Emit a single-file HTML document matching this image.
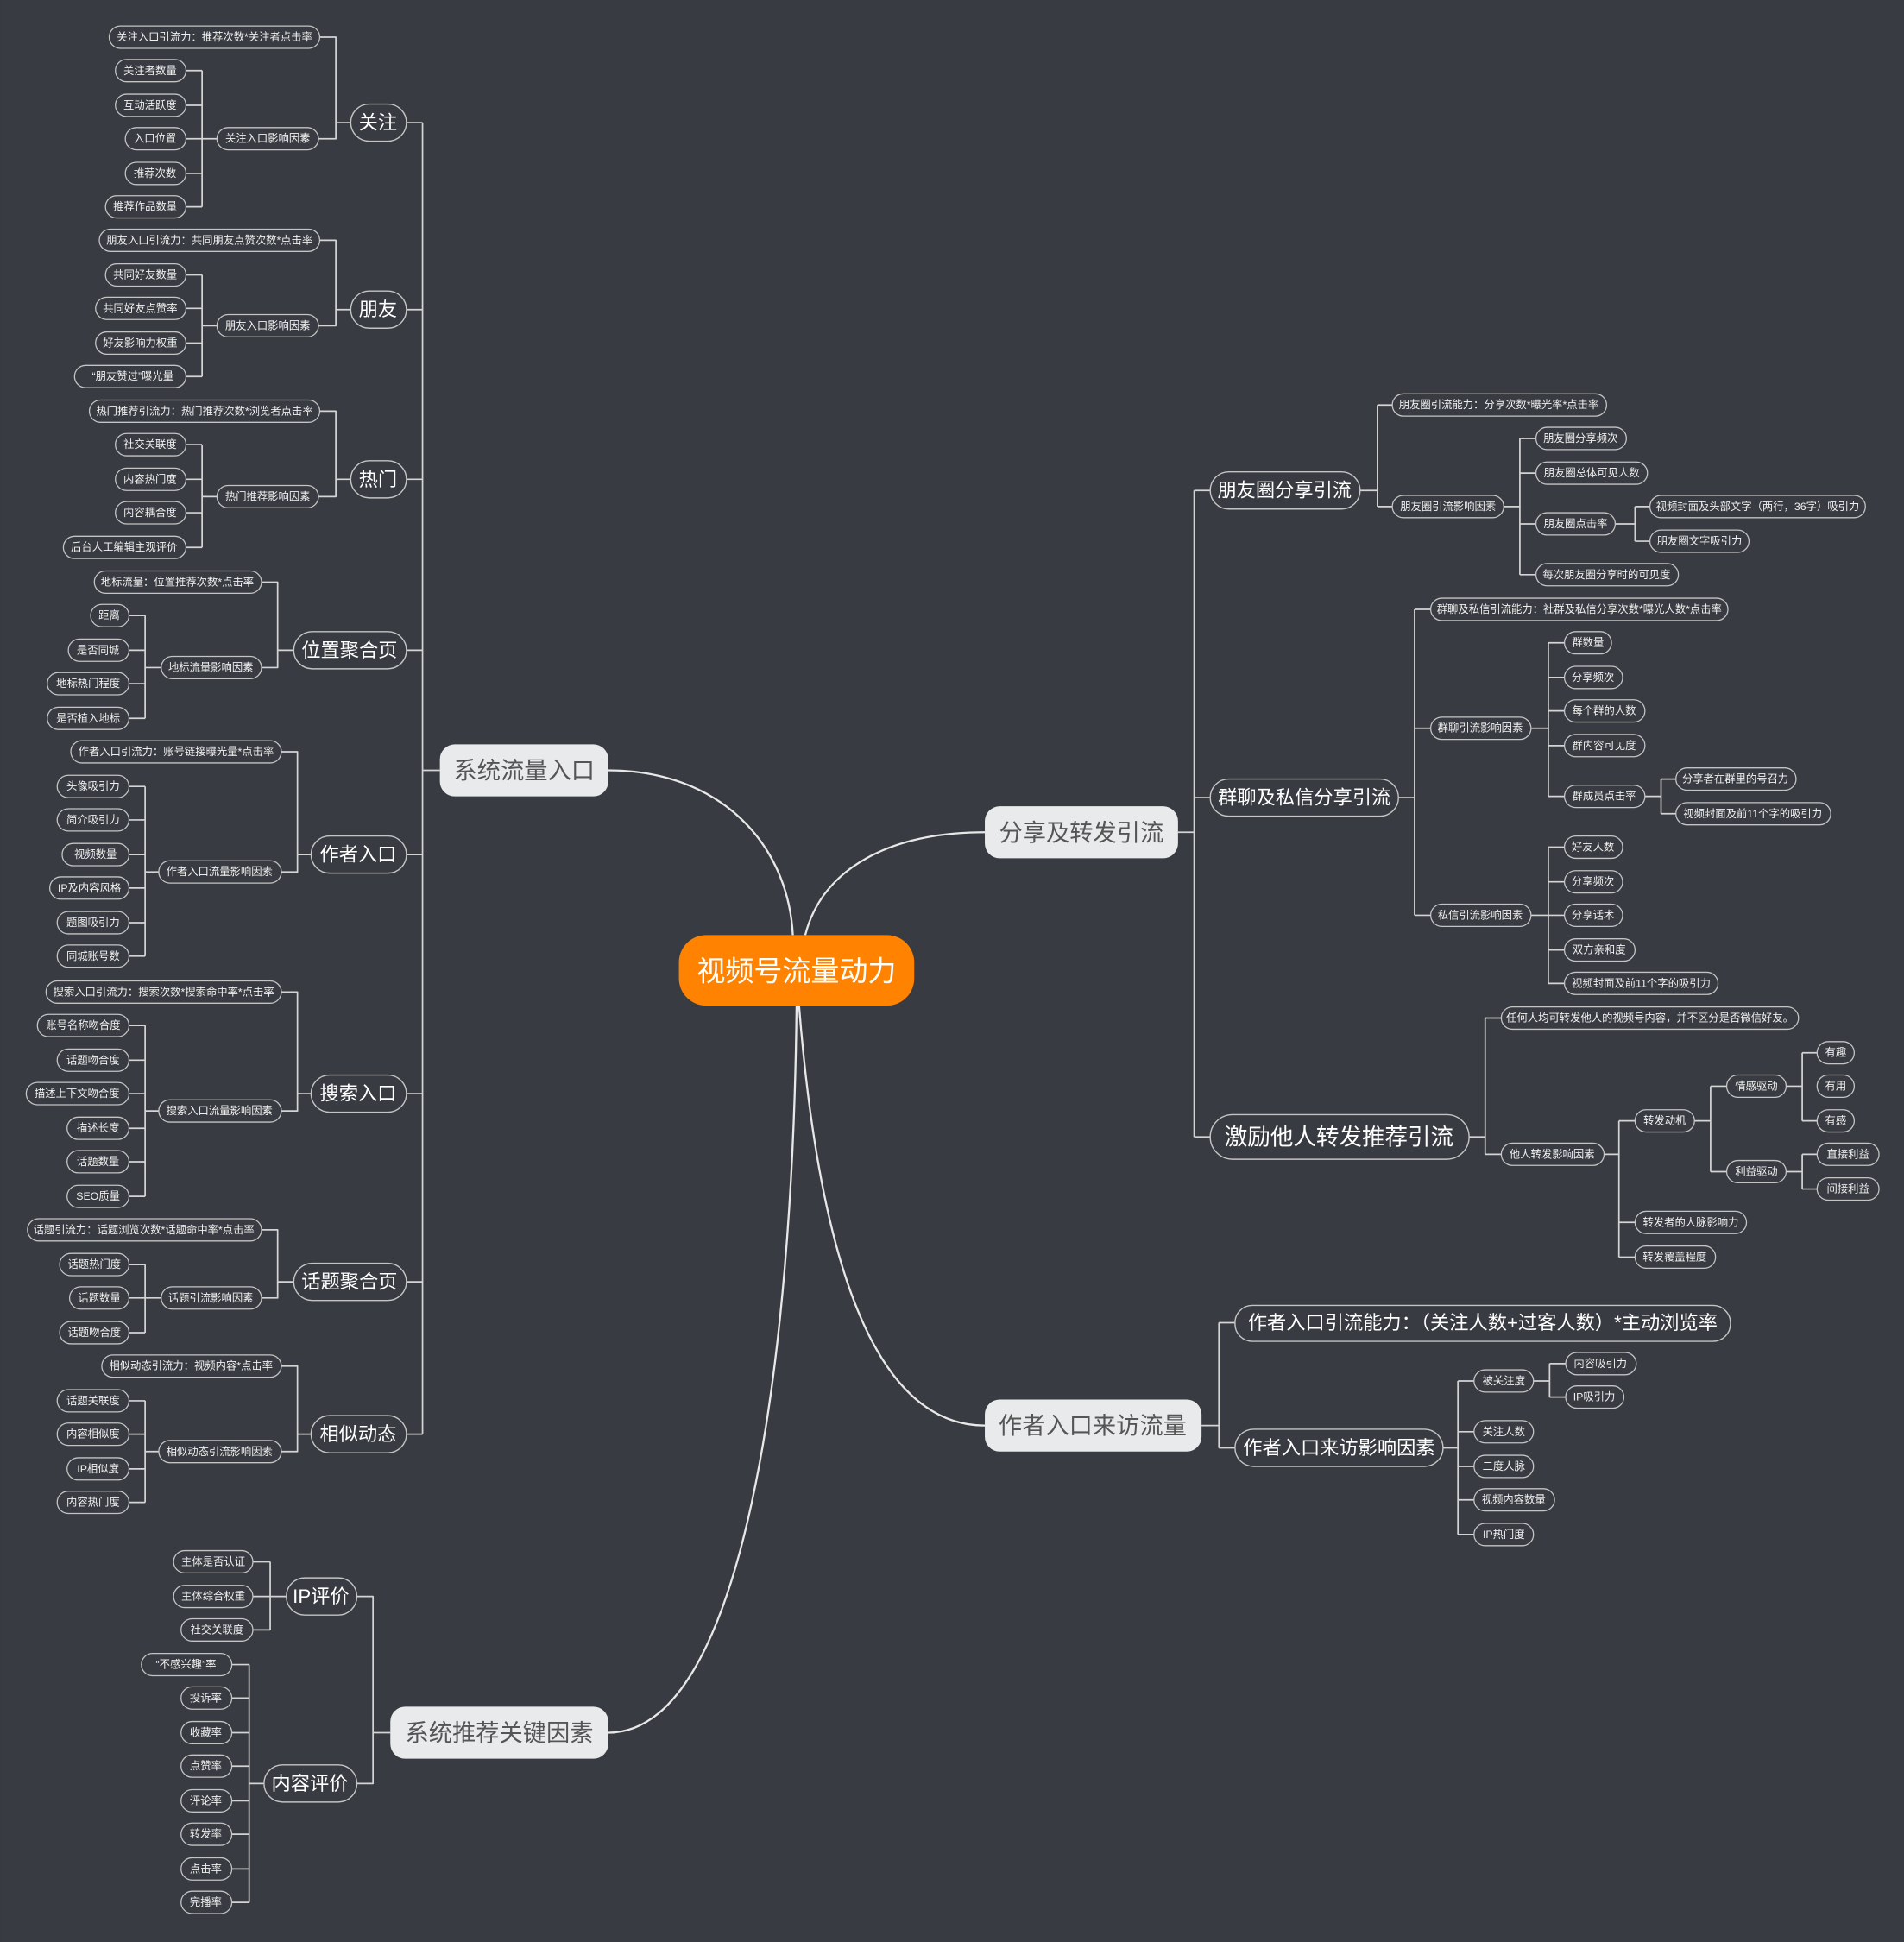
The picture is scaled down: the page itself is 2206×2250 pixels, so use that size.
<!DOCTYPE html>
<html><head><meta charset="utf-8"><style>
html,body{margin:0;padding:0;background:#383b41;}
svg{display:block}
.l{fill:none;stroke:#d4d4d4;stroke-width:1.2;stroke-linejoin:round}
.m{fill:none;stroke:#e8e8e8;stroke-width:1.6}
.s rect{fill:#383b41;stroke:#c4c4c4;stroke-width:0.9}
.s text{fill:#f0f0f0;font-size:8.6px;text-anchor:middle;dominant-baseline:central;font-family:"Liberation Sans","Noto Sans CJK SC",sans-serif}
.d rect{fill:#383b41;stroke:#c4c4c4;stroke-width:1}
.d text{fill:#ffffff;font-size:15.5px;text-anchor:middle;dominant-baseline:central;font-family:"Liberation Sans","Noto Sans CJK SC",sans-serif}
.b rect{fill:#e9eaec;stroke:none}
.b text{fill:#555;font-size:19px;text-anchor:middle;dominant-baseline:central;font-family:"Liberation Sans","Noto Sans CJK SC",sans-serif}
</style></head><body>
<svg width="2206" height="2250" viewBox="0 0 1537 1568" xmlns="http://www.w3.org/2000/svg">
<rect width="1537" height="1568" fill="#383b41"/>
<path class="m" d="M640,755 C636,680 580,622 491,622"/>
<path class="m" d="M650,755 C664,700 720,672 795,672"/>
<path class="m" d="M645,812 C660,1000 700,1151 795,1151"/>
<path class="m" d="M643,812 C640,1100 600,1399 491,1399"/>
<path class="l" d="M328,99H341M328,250H341M328,387H341M328,525H341M328,690H341M328,883H341M328,1035H341M328,1158H341M341,99V1158M341,622H355"/>
<path class="l" d="M258,30H271V112H257M271,99H283"/>
<path class="l" d="M150,57H163M150,85H163M150,112H175M150,140H163M150,167H163M163,57V167"/>
<path class="l" d="M258,194H271V263H257M271,250H283"/>
<path class="l" d="M150,222H163M150,249H163M150,277H163M150,304H163M163,222V304M163,263H175"/>
<path class="l" d="M258,332H271V401H257M271,387H283"/>
<path class="l" d="M163,359V442M163,401H175"/>
<path class="l" d="M211,470H224V539H211M224,525H237"/>
<path class="l" d="M104,497H117M104,525H117M104,552H117M104,580H117M117,497V580M117,539H130"/>
<path class="l" d="M227,607H240V704H227M240,690H251"/>
<path class="l" d="M104,635H117M104,662H117M104,690H117M104,717H117M104,745H117M104,772H117M117,635V772M117,704H128"/>
<path class="l" d="M227,801H240V897H227M240,883H251"/>
<path class="l" d="M104,828H117M104,856H117M104,883H117M104,911H117M104,938H117M104,966H117M117,828V966M117,897H128"/>
<path class="l" d="M211,993H224V1048H211M224,1035H237"/>
<path class="l" d="M104,1021H117M104,1048H130M104,1076H117M117,1021V1076"/>
<path class="l" d="M227,1103H240V1172H227M240,1158H251"/>
<path class="l" d="M104,1131H117M104,1158H117M104,1186H117M104,1213H117M117,1131V1213M117,1172H128"/>
<path class="l" d="M288,1289H301V1440H288M301,1399H315"/>
<path class="l" d="M204,1261H218M204,1289H231M204,1316H218M218,1261V1316"/>
<path class="l" d="M187,1344H201M187,1371H201M187,1399H201M187,1426H201M187,1454H201M187,1481H201M187,1509H201M187,1536H201M201,1344V1536M201,1440H213"/>
<path class="l" d="M951,672H964M964,396V918M964,396H977M964,644H977M964,918H977"/>
<path class="l" d="M1098,396H1112M1112,327V409M1112,327H1124M1112,409H1124"/>
<path class="l" d="M1214,409H1227M1227,354V464M1227,354H1240M1227,382H1240M1227,423H1240M1227,464H1240"/>
<path class="l" d="M1304,423H1320M1320,409V437M1320,409H1332M1320,437H1332"/>
<path class="l" d="M1129,644H1142M1142,492V739M1142,492H1155M1142,588H1155M1142,739H1155"/>
<path class="l" d="M1236,588H1250M1250,519V643M1250,519H1263M1250,547H1263M1250,574H1263M1250,602H1263M1250,643H1263"/>
<path class="l" d="M1328,643H1341M1341,629V657M1341,629H1353M1341,657H1353"/>
<path class="l" d="M1236,739H1250M1250,684V794M1250,684H1263M1250,712H1263M1250,739H1263M1250,767H1263M1250,794H1263"/>
<path class="l" d="M1186,918H1199M1199,822V932M1199,822H1212M1199,932H1212"/>
<path class="l" d="M1295,932H1307M1307,905V1015M1307,905H1320M1307,987H1320M1307,1015H1320"/>
<path class="l" d="M1368,905H1381M1381,877V946M1381,877H1394M1381,946H1394"/>
<path class="l" d="M1442,877H1455M1455,850V905M1455,850H1467M1455,905H1467"/>
<path class="l" d="M1442,946H1455M1455,932V960M1455,932H1467M1455,960H1467"/>
<path class="l" d="M970,1151H984M984,1068V1169M984,1068H997M984,1169H997"/>
<path class="l" d="M1165,1169H1177M1177,1115V1239M1177,1115H1190M1177,1156H1190M1177,1184H1190M1177,1211H1190M1177,1239H1190"/>
<path class="l" d="M1238,1115H1251M1251,1101V1128M1251,1101H1264M1251,1128H1264"/>
<path class="l" d="M150,359H163M150,387H163M150,414H163M150,442H163"/>

<rect x="548" y="755" width="190" height="57" rx="22" fill="#ff8200"/>
<text x="643" y="784" fill="#fff" font-size="23" text-anchor="middle" dominant-baseline="central" font-family="Liberation Sans,Noto Sans CJK SC,sans-serif">视频号流量动力</text>

<g class="b">
<rect x="355" y="601" width="136" height="42" rx="12"/><text x="423" y="622">系统流量入口</text>
<rect x="315" y="1378" width="176" height="42" rx="12"/><text x="403" y="1399">系统推荐关键因素</text>
<rect x="795" y="651" width="156" height="42" rx="12"/><text x="873" y="672">分享及转发引流</text>
<rect x="795" y="1130" width="175" height="42" rx="12"/><text x="882" y="1151">作者入口来访流量</text>
</g>

<g class="d">
<rect x="283" y="84" width="45" height="30" rx="15"/><text x="305" y="99">关注</text>
<rect x="283" y="235" width="45" height="30" rx="15"/><text x="305" y="250">朋友</text>
<rect x="283" y="372" width="45" height="30" rx="15"/><text x="305" y="387">热门</text>
<rect x="237" y="510" width="91" height="30" rx="15"/><text x="282" y="525">位置聚合页</text>
<rect x="251" y="675" width="77" height="30" rx="15"/><text x="289" y="690">作者入口</text>
<rect x="251" y="868" width="77" height="30" rx="15"/><text x="289" y="883">搜索入口</text>
<rect x="237" y="1020" width="91" height="30" rx="15"/><text x="282" y="1035">话题聚合页</text>
<rect x="251" y="1143" width="77" height="30" rx="15"/><text x="289" y="1158">相似动态</text>
<rect x="231" y="1274" width="57" height="30" rx="15"/><text x="259" y="1289">IP评价</text>
<rect x="213" y="1425" width="75" height="30" rx="15"/><text x="250" y="1440">内容评价</text>
<rect x="977" y="381" width="121" height="30" rx="15"/><text x="1037" y="396">朋友圈分享引流</text>
<rect x="977" y="629" width="152" height="30" rx="15"/><text x="1053" y="644">群聊及私信分享引流</text>
<rect x="977" y="900" width="209" height="36" rx="18"/><text x="1081" y="918" style="font-size:18.5px">激励他人转发推荐引流</text>
<rect x="997" y="1054" width="400" height="29" rx="14"/><text x="1197" y="1068">作者入口引流能力：（关注人数+过客人数）*主动浏览率</text>
<rect x="997" y="1154" width="168" height="30" rx="15"/><text x="1081" y="1169">作者入口来访影响因素</text>
</g>

<g class="s">
<rect x="88" y="21" width="170" height="18" rx="9"/><text x="173" y="30">关注入口引流力：推荐次数*关注者点击率</text>
<rect x="93" y="48" width="57" height="18" rx="9"/><text x="121" y="57">关注者数量</text>
<rect x="93" y="76" width="57" height="18" rx="9"/><text x="121" y="85">互动活跃度</text>
<rect x="101" y="103" width="49" height="18" rx="9"/><text x="125" y="112">入口位置</text>
<rect x="101" y="131" width="49" height="18" rx="9"/><text x="125" y="140">推荐次数</text>
<rect x="85" y="158" width="65" height="18" rx="9"/><text x="117" y="167">推荐作品数量</text>
<rect x="175" y="103" width="82" height="18" rx="9"/><text x="216" y="112">关注入口影响因素</text>
<rect x="80" y="185" width="178" height="18" rx="9"/><text x="169" y="194">朋友入口引流力：共同朋友点赞次数*点击率</text>
<rect x="85" y="213" width="65" height="18" rx="9"/><text x="117" y="222">共同好友数量</text>
<rect x="77" y="240" width="73" height="18" rx="9"/><text x="113" y="249">共同好友点赞率</text>
<rect x="77" y="268" width="73" height="18" rx="9"/><text x="113" y="277">好友影响力权重</text>
<rect x="60" y="295" width="90" height="18" rx="9"/><text x="107" y="304">“朋友赞过”曝光量</text>
<rect x="175" y="254" width="82" height="18" rx="9"/><text x="216" y="263">朋友入口影响因素</text>
<rect x="72" y="323" width="186" height="18" rx="9"/><text x="165" y="332">热门推荐引流力：热门推荐次数*浏览者点击率</text>
<rect x="93" y="350" width="57" height="18" rx="9"/><text x="121" y="359">社交关联度</text>
<rect x="93" y="378" width="57" height="18" rx="9"/><text x="121" y="387">内容热门度</text>
<rect x="93" y="405" width="57" height="18" rx="9"/><text x="121" y="414">内容耦合度</text>
<rect x="51" y="433" width="99" height="18" rx="9"/><text x="100" y="442">后台人工编辑主观评价</text>
<rect x="175" y="392" width="82" height="18" rx="9"/><text x="216" y="401">热门推荐影响因素</text>
<rect x="76" y="461" width="135" height="18" rx="9"/><text x="143" y="470">地标流量：位置推荐次数*点击率</text>
<rect x="73" y="488" width="31" height="18" rx="9"/><text x="88" y="497">距离</text>
<rect x="55" y="516" width="49" height="18" rx="9"/><text x="79" y="525">是否同城</text>
<rect x="38" y="543" width="66" height="18" rx="9"/><text x="71" y="552">地标热门程度</text>
<rect x="38" y="571" width="66" height="18" rx="9"/><text x="71" y="580">是否植入地标</text>
<rect x="130" y="530" width="81" height="18" rx="9"/><text x="170" y="539">地标流量影响因素</text>
<rect x="57" y="598" width="170" height="18" rx="9"/><text x="142" y="607">作者入口引流力：账号链接曝光量*点击率</text>
<rect x="46" y="626" width="58" height="18" rx="9"/><text x="75" y="635">头像吸引力</text>
<rect x="46" y="653" width="58" height="18" rx="9"/><text x="75" y="662">简介吸引力</text>
<rect x="50" y="681" width="54" height="18" rx="9"/><text x="77" y="690">视频数量</text>
<rect x="40" y="708" width="64" height="18" rx="9"/><text x="72" y="717">IP及内容风格</text>
<rect x="46" y="736" width="58" height="18" rx="9"/><text x="75" y="745">题图吸引力</text>
<rect x="46" y="763" width="58" height="18" rx="9"/><text x="75" y="772">同城账号数</text>
<rect x="128" y="695" width="99" height="18" rx="9"/><text x="177" y="704">作者入口流量影响因素</text>
<rect x="37" y="792" width="190" height="18" rx="9"/><text x="132" y="801">搜索入口引流力：搜索次数*搜索命中率*点击率</text>
<rect x="30" y="819" width="74" height="18" rx="9"/><text x="67" y="828">账号名称吻合度</text>
<rect x="46" y="847" width="58" height="18" rx="9"/><text x="75" y="856">话题吻合度</text>
<rect x="21" y="874" width="83" height="18" rx="9"/><text x="62" y="883">描述上下文吻合度</text>
<rect x="54" y="902" width="50" height="18" rx="9"/><text x="79" y="911">描述长度</text>
<rect x="54" y="929" width="50" height="18" rx="9"/><text x="79" y="938">话题数量</text>
<rect x="54" y="957" width="50" height="18" rx="9"/><text x="79" y="966">SEO质量</text>
<rect x="128" y="888" width="99" height="18" rx="9"/><text x="177" y="897">搜索入口流量影响因素</text>
<rect x="22" y="984" width="189" height="18" rx="9"/><text x="116" y="993">话题引流力：话题浏览次数*话题命中率*点击率</text>
<rect x="48" y="1012" width="56" height="18" rx="9"/><text x="76" y="1021">话题热门度</text>
<rect x="56" y="1039" width="48" height="18" rx="9"/><text x="80" y="1048">话题数量</text>
<rect x="48" y="1067" width="56" height="18" rx="9"/><text x="76" y="1076">话题吻合度</text>
<rect x="130" y="1039" width="81" height="18" rx="9"/><text x="170" y="1048">话题引流影响因素</text>
<rect x="82" y="1094" width="145" height="18" rx="9"/><text x="154" y="1103">相似动态引流力：视频内容*点击率</text>
<rect x="46" y="1122" width="58" height="18" rx="9"/><text x="75" y="1131">话题关联度</text>
<rect x="46" y="1149" width="58" height="18" rx="9"/><text x="75" y="1158">内容相似度</text>
<rect x="54" y="1177" width="50" height="18" rx="9"/><text x="79" y="1186">IP相似度</text>
<rect x="46" y="1204" width="58" height="18" rx="9"/><text x="75" y="1213">内容热门度</text>
<rect x="128" y="1163" width="99" height="18" rx="9"/><text x="177" y="1172">相似动态引流影响因素</text>
<rect x="140" y="1252" width="64" height="18" rx="9"/><text x="172" y="1261">主体是否认证</text>
<rect x="140" y="1280" width="64" height="18" rx="9"/><text x="172" y="1289">主体综合权重</text>
<rect x="146" y="1307" width="58" height="18" rx="9"/><text x="175" y="1316">社交关联度</text>
<rect x="114" y="1335" width="73" height="18" rx="9"/><text x="150" y="1344">“不感兴趣”率</text>
<rect x="146" y="1362" width="41" height="18" rx="9"/><text x="166" y="1371">投诉率</text>
<rect x="146" y="1390" width="41" height="18" rx="9"/><text x="166" y="1399">收藏率</text>
<rect x="146" y="1417" width="41" height="18" rx="9"/><text x="166" y="1426">点赞率</text>
<rect x="146" y="1445" width="41" height="18" rx="9"/><text x="166" y="1454">评论率</text>
<rect x="146" y="1472" width="41" height="18" rx="9"/><text x="166" y="1481">转发率</text>
<rect x="146" y="1500" width="41" height="18" rx="9"/><text x="166" y="1509">点击率</text>
<rect x="146" y="1527" width="41" height="18" rx="9"/><text x="166" y="1536">完播率</text>
<rect x="1124" y="318" width="173" height="18" rx="9"/><text x="1210" y="327">朋友圈引流能力：分享次数*曝光率*点击率</text>
<rect x="1124" y="400" width="90" height="18" rx="9"/><text x="1169" y="409">朋友圈引流影响因素</text>
<rect x="1240" y="345" width="73" height="18" rx="9"/><text x="1276" y="354">朋友圈分享频次</text>
<rect x="1240" y="373" width="90" height="18" rx="9"/><text x="1285" y="382">朋友圈总体可见人数</text>
<rect x="1240" y="414" width="64" height="18" rx="9"/><text x="1272" y="423">朋友圈点击率</text>
<rect x="1240" y="455" width="115" height="18" rx="9"/><text x="1297" y="464">每次朋友圈分享时的可见度</text>
<rect x="1332" y="400" width="174" height="18" rx="9"/><text x="1419" y="409">视频封面及头部文字（两行，36字）吸引力</text>
<rect x="1332" y="428" width="80" height="18" rx="9"/><text x="1372" y="437">朋友圈文字吸引力</text>
<rect x="1155" y="483" width="240" height="18" rx="9"/><text x="1275" y="492">群聊及私信引流能力：社群及私信分享次数*曝光人数*点击率</text>
<rect x="1155" y="579" width="81" height="18" rx="9"/><text x="1195" y="588">群聊引流影响因素</text>
<rect x="1263" y="510" width="38" height="18" rx="9"/><text x="1282" y="519">群数量</text>
<rect x="1263" y="538" width="47" height="18" rx="9"/><text x="1286" y="547">分享频次</text>
<rect x="1263" y="565" width="65" height="18" rx="9"/><text x="1295" y="574">每个群的人数</text>
<rect x="1263" y="593" width="65" height="18" rx="9"/><text x="1295" y="602">群内容可见度</text>
<rect x="1263" y="634" width="65" height="18" rx="9"/><text x="1295" y="643">群成员点击率</text>
<rect x="1353" y="620" width="97" height="18" rx="9"/><text x="1401" y="629">分享者在群里的号召力</text>
<rect x="1353" y="648" width="125" height="18" rx="9"/><text x="1415" y="657">视频封面及前11个字的吸引力</text>
<rect x="1155" y="730" width="81" height="18" rx="9"/><text x="1195" y="739">私信引流影响因素</text>
<rect x="1263" y="675" width="47" height="18" rx="9"/><text x="1286" y="684">好友人数</text>
<rect x="1263" y="703" width="47" height="18" rx="9"/><text x="1286" y="712">分享频次</text>
<rect x="1263" y="730" width="47" height="18" rx="9"/><text x="1286" y="739">分享话术</text>
<rect x="1263" y="758" width="57" height="18" rx="9"/><text x="1291" y="767">双方亲和度</text>
<rect x="1263" y="785" width="124" height="18" rx="9"/><text x="1325" y="794">视频封面及前11个字的吸引力</text>
<rect x="1212" y="813" width="240" height="18" rx="9"/><text x="1332" y="822">任何人均可转发他人的视频号内容，并不区分是否微信好友。</text>
<rect x="1212" y="923" width="83" height="18" rx="9"/><text x="1253" y="932">他人转发影响因素</text>
<rect x="1320" y="896" width="48" height="18" rx="9"/><text x="1344" y="905">转发动机</text>
<rect x="1394" y="868" width="48" height="18" rx="9"/><text x="1418" y="877">情感驱动</text>
<rect x="1394" y="937" width="48" height="18" rx="9"/><text x="1418" y="946">利益驱动</text>
<rect x="1467" y="841" width="30" height="18" rx="9"/><text x="1482" y="850">有趣</text>
<rect x="1467" y="868" width="30" height="18" rx="9"/><text x="1482" y="877">有用</text>
<rect x="1467" y="896" width="30" height="18" rx="9"/><text x="1482" y="905">有感</text>
<rect x="1467" y="923" width="50" height="18" rx="9"/><text x="1492" y="932">直接利益</text>
<rect x="1467" y="951" width="50" height="18" rx="9"/><text x="1492" y="960">间接利益</text>
<rect x="1320" y="978" width="90" height="18" rx="9"/><text x="1365" y="987">转发者的人脉影响力</text>
<rect x="1320" y="1006" width="65" height="18" rx="9"/><text x="1352" y="1015">转发覆盖程度</text>
<rect x="1190" y="1106" width="48" height="18" rx="9"/><text x="1214" y="1115">被关注度</text>
<rect x="1264" y="1092" width="57" height="18" rx="9"/><text x="1292" y="1101">内容吸引力</text>
<rect x="1264" y="1119" width="47" height="18" rx="9"/><text x="1287" y="1128">IP吸引力</text>
<rect x="1190" y="1147" width="48" height="18" rx="9"/><text x="1214" y="1156">关注人数</text>
<rect x="1190" y="1175" width="48" height="18" rx="9"/><text x="1214" y="1184">二度人脉</text>
<rect x="1190" y="1202" width="65" height="18" rx="9"/><text x="1222" y="1211">视频内容数量</text>
<rect x="1190" y="1230" width="48" height="18" rx="9"/><text x="1214" y="1239">IP热门度</text>
</g>
</svg>
</body></html>
